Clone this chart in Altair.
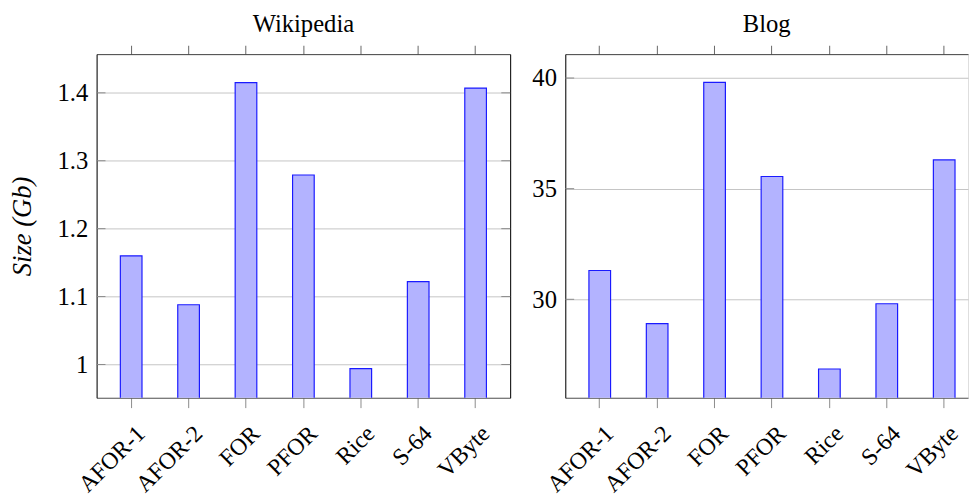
import altair as alt
import pandas as pd

methods = ["AFOR-1", "AFOR-2", "FOR", "PFOR", "Rice", "S-64", "VByte"]
wiki_size = [1.160, 1.088, 1.415, 1.279, 0.994, 1.122, 1.407]
blog_size = [31.3, 28.9, 39.8, 35.55, 26.85, 29.8, 36.3]

wiki_ticks = [1.0, 1.1, 1.2, 1.3, 1.4]
blog_ticks = [30, 35, 40]
wiki_domain = [0.951, 1.457]
blog_domain = [25.55, 41.08]

SERIF = "Liberation Serif"
FILL = "#b3b3ff"
EDGE = "#1a1aff"
GRID = "#c4c4c4"
TICKC = "#8a8a8a"


def panel(values, ticks, domain, title, width, pad_outer, align, ytitle, right_frame):
    df = pd.DataFrame({"method": methods, "value": values})
    tdf = pd.DataFrame({"t": ticks})
    xscale = alt.Scale(type="band", paddingInner=0.623, paddingOuter=pad_outer,
                       align=align, round=False)
    yscale = alt.Scale(domain=domain, nice=False, zero=False)

    left_axis = alt.Axis(
        values=ticks, format=".1~f", labelFont=SERIF, labelFontSize=25,
        labelColor="black", labelPadding=9, ticks=False,
        domainColor="black", domainWidth=1, grid=True, gridColor=GRID,
        gridWidth=1, title=ytitle if ytitle else None,
        titleFont=SERIF, titleFontSize=27, titleFontStyle="italic",
        titleFontWeight="normal", titleColor="black", titlePadding=21,
    )
    bottom_axis = alt.Axis(
        orient="bottom", labelAngle=-45, labelFont=SERIF, labelFontSize=24,
        labelColor="black", labelPadding=14, labelOffset=2, tickSize=10,
        tickColor=TICKC, domainColor="#555555", title=None, grid=False,
    )
    top_axis = alt.Axis(
        orient="top", labels=False, tickSize=9, tickColor="#666666",
        domainColor="#444444", title=None, grid=False,
    )

    bars = alt.Chart(df).mark_bar(
        fill=FILL, stroke=EDGE, strokeWidth=1.2, clip=True
    ).encode(
        x=alt.X("method:N", sort=methods, scale=xscale, axis=bottom_axis),
        y=alt.Y("value:Q", scale=yscale, axis=left_axis),
    )

    if right_frame:
        ry = alt.Y("value:Q", scale=yscale, axis=alt.Axis(
            orient="right", labels=False, ticks=False, domainColor="black",
            grid=False, title=None))
    else:
        ry = alt.Y("value:Q", scale=yscale, axis=None)

    topl = alt.Chart(df).mark_point(opacity=0).encode(
        x=alt.X("method:N", sort=methods, scale=xscale, axis=top_axis),
        y=ry,
    )

    ltick = alt.Chart(tdf).mark_rule(color=TICKC, strokeWidth=1).encode(
        y=alt.Y("t:Q", scale=yscale, axis=None),
        x=alt.value(0), x2=alt.value(9),
    )
    layers = [bars, topl, ltick]
    if right_frame:
        rtick = alt.Chart(tdf).mark_rule(color=TICKC, strokeWidth=1).encode(
            y=alt.Y("t:Q", scale=yscale, axis=None),
            x=alt.value(width - 9), x2=alt.value(width),
        )
        layers.append(rtick)

    return alt.layer(*layers).resolve_axis(x="independent", y="independent").properties(
        width=width, height=349,
        title=alt.Title(title, font=SERIF, fontSize=25, fontWeight="normal",
                        color="black", offset=8, anchor="middle"),
    )


left = panel(wiki_size, wiki_ticks, wiki_domain, "Wikipedia", 420, 0.4135, 0.5,
             "Size (Gb)", True)
right = panel(blog_size, blog_ticks, blog_domain, "Blog", 409, 0.319, 0.645,
              None, False)

chart = alt.hconcat(left, right, spacing=20).properties(
    padding={"left": 0, "top": 0, "right": 0, "bottom": 0}
).configure_view(stroke=None).configure(
    background="white", font=SERIF
).configure_axis(
    labelFont=SERIF, titleFont=SERIF
).configure_title(font=SERIF)

chart.save("out.html", embed_options={"renderer": "svg", "actions": False})
